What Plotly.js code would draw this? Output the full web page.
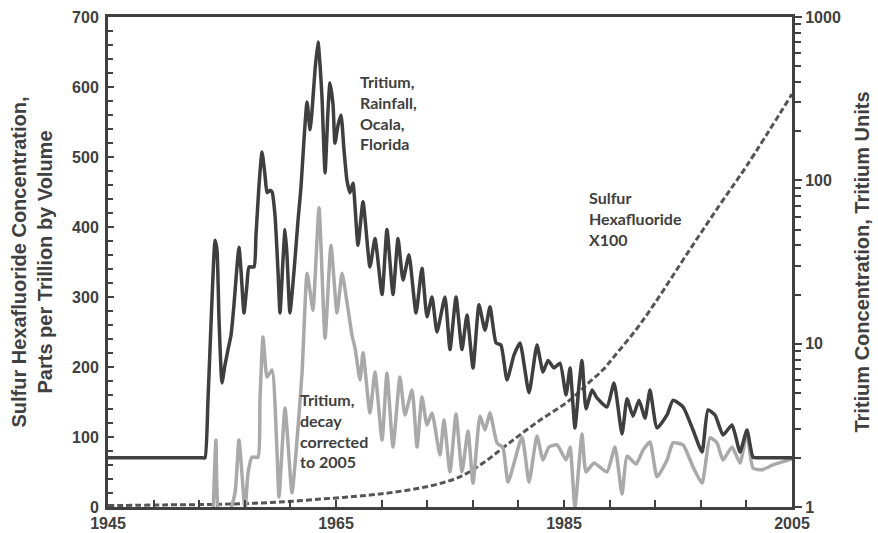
<!DOCTYPE html>
<html><head><meta charset="utf-8">
<script src="https://cdn.plot.ly/plotly-3.0.1.min.js"></script>
<style>html,body{margin:0;padding:0;background:#fff}#chart{width:878px;height:533px}</style>
</head><body><div id="chart"></div>
<script>
// Tritium in rainfall, Ocala, Florida (Tritium Units)
const darkYears = [1945, 1953.3, 1953.51, 1953.77, 1954.12, 1954.39, 1954.56, 1954.74, 1955.0, 1955.26, 1955.53, 1955.79, 1956.05, 1956.32, 1956.49, 1956.67, 1956.93, 1957.19, 1957.37, 1957.81, 1957.98, 1958.25, 1958.51, 1958.77, 1958.95, 1959.21, 1959.39, 1959.65, 1959.91, 1960.09, 1960.35, 1960.53, 1960.70, 1960.96, 1961.32, 1961.67, 1961.93, 1962.19, 1962.46, 1962.72, 1962.89, 1963.16, 1963.42, 1963.60, 1963.77, 1964.04, 1964.30, 1964.47, 1964.74, 1964.91, 1965.18, 1965.44, 1965.70, 1965.96, 1966.23, 1966.49, 1966.93, 1967.37, 1967.98, 1968.42, 1969.04, 1969.47, 1970.0, 1970.44, 1970.88, 1971.40, 1972.02, 1972.54, 1972.98, 1973.42, 1973.86, 1974.56, 1975.0, 1975.53, 1976.05, 1976.49, 1977.02, 1977.54, 1978.07, 1978.51, 1979.04, 1979.47, 1980.0, 1980.61, 1981.14, 1981.93, 1982.63, 1983.16, 1983.60, 1984.12, 1984.65, 1985.18, 1985.53, 1985.96, 1986.32, 1986.58, 1986.93, 1987.46, 1987.89, 1988.77, 1989.39, 1990.09, 1990.53, 1991.05, 1991.58, 1992.11, 1992.54, 1993.16, 1994.04, 1994.56, 1995.44, 1996.32, 1997.11, 1997.63, 1998.25, 1998.95, 1999.74, 2000.44, 2001.05, 2001.58, 2002.19, 2002.5, 2005];
const darkTU = [2.0, 2.0, 2.0, 4.5, 18.5, 43, 37.5, 14, 5.75, 7.4, 9.2, 11.3, 17.3, 30, 39, 28, 15.4, 23, 29.5, 29.5, 46, 94, 149, 108, 84, 87, 85, 61, 28, 15.4, 32.6, 50, 35, 15.4, 28, 57, 91, 177, 302, 204, 262, 474, 704, 509, 324, 111, 270, 395, 290, 169, 218, 251, 154, 100, 84, 96, 40, 74, 29.5, 44, 20, 50, 20, 44, 24.5, 35, 15.4, 29, 14.6, 19.3, 11.8, 19.3, 9.2, 19.3, 9.2, 15, 7.1, 17.3, 12.1, 16.8, 10.1, 9.8, 6.0, 8.5, 10.1, 5.0, 9.8, 6.7, 7.9, 7.1, 7.6, 4.85, 7.1, 3.05, 5.6, 7.9, 4.0, 5.2, 4.65, 4.1, 5.75, 2.8, 4.6, 3.6, 4.5, 3.5, 5.2, 3.05, 3.66, 4.5, 4.1, 2.96, 2.17, 3.93, 3.66, 2.76, 3.18, 2.17, 2.96, 2.02, 2.0, 2.0, 2.0];

// Tritium, decay corrected to 2005 (Tritium Units)
const grayYears = [1954.21, 1954.47, 1954.74, 1955.35, 1956.14, 1956.49, 1957.02, 1957.28, 1957.63, 1958.16, 1958.33, 1958.60, 1958.95, 1959.39, 1959.82, 1960.0, 1960.53, 1961.14, 1961.58, 1962.02, 1962.46, 1962.72, 1962.98, 1963.51, 1964.04, 1964.56, 1965.09, 1965.53, 1965.96, 1966.40, 1966.67, 1967.11, 1967.37, 1967.98, 1968.42, 1969.04, 1969.47, 1970.0, 1970.61, 1971.05, 1971.67, 1972.11, 1972.54, 1972.98, 1973.42, 1974.12, 1974.47, 1975.0, 1975.53, 1976.05, 1976.58, 1977.02, 1977.63, 1978.07, 1978.51, 1979.12, 1979.65, 1980.09, 1981.32, 1981.93, 1982.63, 1983.16, 1983.68, 1984.39, 1985.18, 1985.53, 1985.96, 1986.58, 1986.93, 1987.63, 1988.77, 1989.47, 1990.09, 1990.53, 1991.32, 1991.93, 1992.54, 1993.16, 1994.04, 1994.56, 1995.44, 1996.32, 1997.11, 1997.81, 1998.42, 1998.95, 1999.74, 2000.44, 2001.05, 2001.58, 2002.37, 2003.33, 2005];
const grayTU = [0.85, 2.57, 0.85, 0.8, 1.22, 2.57, 0.96, 1.61, 2.02, 2.02, 4.5, 11.0, 6.25, 6.9, 2.23, 1.15, 4.04, 1.22, 2.57, 6.6, 27, 21, 16, 68, 10.8, 40, 15.4, 27, 18, 11.3, 9.4, 6.0, 8.8, 3.76, 6.7, 2.57, 6.6, 2.33, 6.25, 3.66, 5.2, 2.33, 4.72, 3.18, 3.76, 2.08, 3.41, 1.64, 3.71, 1.64, 2.92, 1.40, 3.61, 2.96, 3.76, 2.47, 2.30, 1.42, 2.68, 1.42, 2.72, 1.94, 2.33, 2.40, 1.94, 2.33, 1.0, 2.80, 1.64, 1.86, 1.64, 2.33, 1.20, 2.05, 1.83, 2.23, 2.50, 1.53, 1.94, 2.47, 2.40, 1.76, 1.40, 2.65, 2.47, 1.94, 2.33, 1.86, 2.83, 1.73, 1.69, 1.81, 1.97];

// Sulfur hexafluoride x100 (parts per trillion by volume x100)
const sf6Years = [1945, 1950, 1955, 1960, 1965, 1968, 1970, 1972, 1974, 1976, 1978, 1980, 1982.63, 1985.53, 1987.2, 1988.42, 1989.4, 1991.4, 1993, 1996.05, 1998.68, 2001.05, 2005];
const sf6Values = [2, 3, 4, 7, 13, 17, 21, 26, 33, 44, 64, 89, 121, 153, 178, 196, 215, 255, 292, 368, 432, 488, 590];

const xTickVals = [1945, 1965, 1985, 2005];
const leftTickVals = [0, 100, 200, 300, 400, 500, 600, 700];
const rightTickVals = [1, 10, 100, 1000];

const ink = '#404040';
const tickFont = {family: 'Liberation Sans, Arial, sans-serif', size: 16, color: ink, weight: 'bold'};
const titleFont = {family: 'Liberation Sans, Arial, sans-serif', size: 20, color: ink, weight: 'bold'};
const noteFont = {family: 'Lato, Open Sans, sans-serif', size: 16, color: ink, weight: 'bold'};

const traces = [
  {x: grayYears, y: grayTU, yaxis: 'y2', type: 'scatter', mode: 'lines',
   line: {color: '#a9a9a9', width: 3.5, shape: 'spline', smoothing: 0.5}, hoverinfo: 'skip'},
  {x: darkYears, y: darkTU, yaxis: 'y2', type: 'scatter', mode: 'lines',
   line: {color: '#3f3f3f', width: 3.5, shape: 'spline', smoothing: 0.5}, hoverinfo: 'skip'},
  {x: sf6Years, y: sf6Values, yaxis: 'y', type: 'scatter', mode: 'lines',
   line: {color: '#555555', width: 3, dash: '6px,3px', shape: 'spline'}, hoverinfo: 'skip'}
];

const px2x = p => (p - 108) / 684;
const px2y = p => (507 - p) / 490;

const layout = {
  width: 878, height: 533,
  margin: {l: 108, r: 86, t: 17, b: 26},
  paper_bgcolor: '#fff', plot_bgcolor: '#fff',
  showlegend: false,
  xaxis: {
    range: [1945, 2005], tickvals: xTickVals, ticktext: xTickVals.map(String),
    showline: true, linecolor: ink, linewidth: 3, mirror: true,
    ticks: 'inside', ticklen: 7, tickwidth: 2, tickcolor: ink,
    minor: {dtick: 4, tick0: 1945, ticks: 'inside', ticklen: 7, tickwidth: 2, tickcolor: ink},
    showgrid: false, zeroline: false, tickfont: tickFont, fixedrange: true
  },
  yaxis: {
    range: [0, 700], tickvals: leftTickVals,
    showline: true, linecolor: ink, linewidth: 3,
    ticks: 'inside', ticklen: 6, tickwidth: 2, tickcolor: ink,
    minor: {dtick: 20, ticks: 'inside', ticklen: 5, tickwidth: 2, tickcolor: ink},
    showgrid: false, zeroline: false, tickfont: tickFont, ticklabelstandoff: 3,
    title: {text: 'Sulfur Hexafluoride Concentration,<br>Parts per Trillion by Volume',
            font: titleFont, standoff: 15}
  },
  yaxis2: {
    type: 'log', range: [0, 3], overlaying: 'y', side: 'right',
    tickvals: rightTickVals, ticktext: rightTickVals.map(String),
    showline: true, linecolor: ink, linewidth: 3,
    ticks: 'outside', ticklen: 7, tickwidth: 2, tickcolor: ink,
    minor: {dtick: 'D1', ticks: 'outside', ticklen: 6, tickwidth: 2, tickcolor: ink},
    showgrid: false, zeroline: false, tickfont: tickFont,
    title: {text: 'Tritium Concentration, Tritium Units', font: titleFont, standoff: 16}
  },
  annotations: [
    {xref: 'paper', yref: 'paper', x: px2x(358), y: px2y(70), xanchor: 'left', yanchor: 'top', align: 'left',
     showarrow: false, font: noteFont, text: 'Tritium,<br>Rainfall,<br>Ocala,<br>Florida'},
    {xref: 'paper', yref: 'paper', x: px2x(298), y: px2y(388), xanchor: 'left', yanchor: 'top', align: 'left',
     showarrow: false, font: noteFont, text: 'Tritium,<br>decay<br>corrected<br>to 2005'},
    {xref: 'paper', yref: 'paper', x: px2x(587), y: px2y(186), xanchor: 'left', yanchor: 'top', align: 'left',
     showarrow: false, font: noteFont, text: 'Sulfur<br>Hexafluoride<br>X100'}
  ]
};

Plotly.newPlot('chart', traces, layout, {staticPlot: true, displayModeBar: false});
</script>
</body></html>
